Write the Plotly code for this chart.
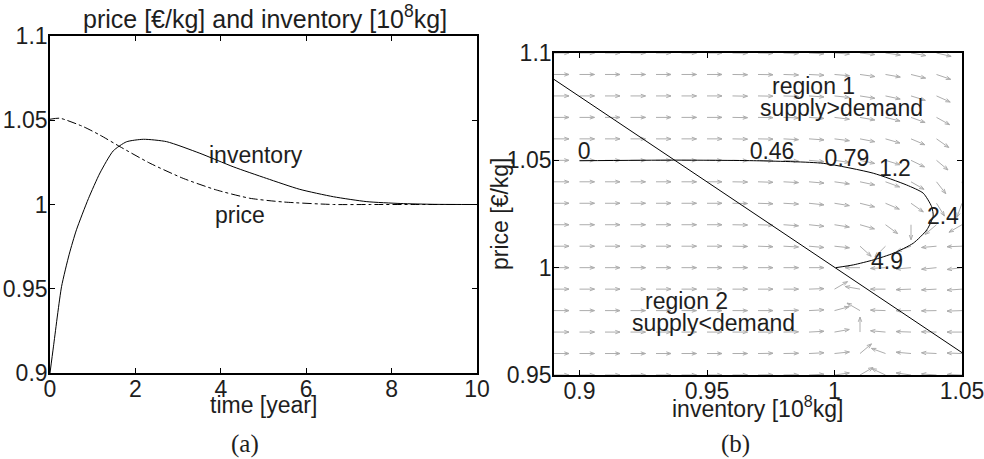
import numpy as np
import plotly.graph_objects as go

# ---------------- data: panel (a) ----------------
t_inv = [0, 0.08, 0.27, 0.45, 0.62, 0.9, 1.17, 1.48, 1.79, 2.19, 2.73, 3.51, 4.29, 5.07, 5.85, 6.64, 7.42, 8.2, 9.0, 10.0]
inventory = [0.9, 0.9155, 0.9512, 0.9705, 0.985, 1.0035, 1.0187, 1.0318, 1.0372, 1.0387, 1.0373, 1.0304,
             1.0224, 1.0155, 1.009, 1.0046, 1.0017, 1.0006, 1.0001, 1.0]
t_price = [0, 0.23, 0.78, 1.17, 1.64, 2.34, 3.12, 3.9, 4.68, 5.46, 6.64, 7.5, 8.5, 10.0]
price = [1.0506, 1.0512, 1.0462, 1.0412, 1.0343, 1.0245, 1.0155, 1.0086, 1.0037, 1.0015, 1.0, 1.0, 1.0, 1.0]

# ---------------- data: panel (b) ----------------
traj_inv = [0.9, 0.9368, 0.9695, 0.9956, 1.0152, 1.0283, 1.0348, 1.0381, 1.0387, 1.0362, 1.0309, 1.0231,
            1.0152, 1.0074, 1.0005]
traj_price = [1.0498, 1.0501, 1.0498, 1.0486, 1.044, 1.0385, 1.0347, 1.0284, 1.024, 1.0176, 1.0114, 1.0067,
              1.0036, 1.0013, 1.0]
balance_inv = [0.89, 1.05]
balance_price = [1.0877, 0.9604]
time_labels = ["0", "0.46", "0.79", "1.2", "2.4", "4.9"]
time_label_inv = [0.9018, 0.9755, 1.0049, 1.0237, 1.0425, 1.0206]
time_label_price = [1.0534, 1.0534, 1.0502, 1.0455, 1.0231, 1.0022]

grid_inv = [0.89, 0.90, 0.91, 0.92, 0.93, 0.94, 0.95, 0.96, 0.97, 0.98, 0.99, 1.00, 1.01, 1.02, 1.03, 1.04, 1.05]
grid_price = [1.10, 1.09, 1.08, 1.07, 1.06, 1.05, 1.04, 1.03, 1.02, 1.01, 1.00, 0.99, 0.98, 0.97, 0.96, 0.95]
nan = float("nan")
# direction of the field arrows (screen degrees, counter-clockwise from "right"), one row per price level
field_angle = [
    [0, 0, 0, 0, 0, 0, 0, -1, -1, -2, -3, -4, -6, -8, -10, -13, -16],
    [0, 0, 0, 0, 0, 0, 0, -1, -1, -2, -3, -5, -8, -10, -14, -19, -22],
    [0, 0, 0, 0, 0, 0, 0, -1, -1, -2, -4, -6, -9, -12, -17, -24, -28],
    [0, 0, 0, 0, 0, 0, 0, -1, -1, -2, -4, -7, -10, -14, -20, -29, -35],
    [0, 0, 0, 0, 0, 0, 0, -1, -1, -3, -4, -7, -11, -16, -23, -35, -42],
    [0, 0, 0, 0, 0, 0, 0, -1, -2, -3, -5, -8, -12, -17, -26, -40, -52],
    [0, 0, 0, 0, 0, 0, 0, -1, -2, -3, -5, -8, -12, -20, -30, -52, -75],
    [0, 0, 0, 0, 0, 0, 0, -1, -2, -3, -6, -9, -14, -23, -35, -58, -110],
    [0, 0, 0, 0, 0, 0, 0, -1, -2, -4, -6, -9, -16, -36, -90, -140, -150],
    [0, 0, 0, 0, 0, 0, 0, -1, -2, -3, -5, -6, -42, -135, -160, -175, -178],
    [0, 0, 0, 0, 0, 0, 0, 0, 0, 0, 0, nan, 180, 183, 185, 186, 187],
    [0, 0, 0, 0, 0, 0, 0, 0, 0, 0, 2, 30, 170, 180, 182, 183, 184],
    [0, 0, 0, 0, 0, 0, 0, 0, 0, 1, 3, 15, 150, 178, 180, 181, 182],
    [0, 0, 0, 0, 0, 0, 0, 0, 0, 1, 3, 10, 90, 175, 178, 179, 180],
    [0, 0, 0, 0, 0, 0, 0, 0, 1, 1, 3, 6, 40, 160, 175, 177, 178],
    [0, 0, 0, 0, 0, 0, 0, 0, 1, 1, 3, 8, 30, 155, 172, 176, 178],
]

# ---------------- layout geometry ----------------
W, H = 984, 459
A_X = (50, 477); A_Y = (36, 373)     # pixel box of panel (a)
B_X = (554, 962); B_Y = (53, 375)    # pixel box of panel (b)
B_XR = (0.89, 1.05); B_YR = (0.95, 1.10)

def dom_x(p):
    return [p[0] / W, p[1] / W]

def dom_y(p):
    return [1 - p[1] / H, 1 - p[0] / H]

FONT = "Liberation Sans, Arial, sans-serif"
fs = 23
INK = "#1e1e1e"

fig = go.Figure()

# panel (a)
fig.add_trace(go.Scatter(x=t_inv, y=inventory, mode="lines",
                         line=dict(color="black", width=1, shape="spline", smoothing=0.6),
                         xaxis="x", yaxis="y", showlegend=False))
fig.add_trace(go.Scatter(x=t_price, y=price, mode="lines",
                         line=dict(color="black", width=1, dash="dashdot", shape="spline", smoothing=0.6),
                         xaxis="x", yaxis="y", showlegend=False))

# panel (b): quiver field, drawn in pixel space through the axis scale
sx = (B_X[1] - B_X[0]) / (B_XR[1] - B_XR[0])
sy = (B_Y[1] - B_Y[0]) / (B_YR[1] - B_YR[0])
L, HL, HA = 15.0, 5.0, np.radians(20)
qx, qy = [], []
for i, gp in enumerate(grid_price):
    for j, gi in enumerate(grid_inv):
        a = field_angle[i][j]
        if a != a:
            continue
        r = np.radians(a)
        hx = gi + L * np.cos(r) / sx
        hy = gp + L * np.sin(r) / sy
        qx += [gi, hx, None]
        qy += [gp, hy, None]
        for s in (1, -1):
            b = r + np.pi + s * HA
            qx += [hx, hx + HL * np.cos(b) / sx, None]
            qy += [hy, hy + HL * np.sin(b) / sy, None]
fig.add_trace(go.Scatter(x=qx, y=qy, mode="lines", line=dict(color="#adadad", width=1),
                         xaxis="x2", yaxis="y2", showlegend=False, hoverinfo="skip"))
fig.add_trace(go.Scatter(x=balance_inv, y=balance_price, mode="lines", line=dict(color="black", width=1),
                         xaxis="x2", yaxis="y2", showlegend=False))
fig.add_trace(go.Scatter(x=traj_inv, y=traj_price, mode="lines",
                         line=dict(color="black", width=1, shape="spline", smoothing=0.6),
                         xaxis="x2", yaxis="y2", showlegend=False))
fig.add_trace(go.Scatter(x=time_label_inv, y=time_label_price, mode="text", text=time_labels,
                         textfont=dict(family=FONT, size=fs, color=INK),
                         xaxis="x2", yaxis="y2", showlegend=False))

axis_common = dict(showline=True, linecolor="black", linewidth=1.6, mirror="ticks", ticks="inside",
                   ticklen=5, tickcolor="black", showgrid=False, zeroline=False, automargin=False,
                   ticklabeloverflow="allow", tickfont=dict(family=FONT, size=fs, color=INK))
xax = dict(axis_common, ticklabelstandoff=-5)
yax = dict(axis_common, ticklabelstandoff=-4)

fig.update_layout(
    width=W, height=H, autosize=False,
    margin=dict(l=0, r=0, t=0, b=0, pad=0, autoexpand=False),
    paper_bgcolor="white", plot_bgcolor="white",
    xaxis=dict(xax, domain=dom_x(A_X), range=[0, 10], tickvals=[0, 2, 4, 6, 8, 10], anchor="y"),
    yaxis=dict(yax, domain=dom_y(A_Y), range=[0.9, 1.1], tickvals=[0.9, 0.95, 1, 1.05, 1.1],
               ticktext=["0.9", "0.95", "1", "1.05", "1.1"], anchor="x"),
    xaxis2=dict(xax, domain=dom_x(B_X), range=list(B_XR), tickvals=[0.9, 0.95, 1, 1.05],
                ticktext=["0.9", "0.95", "1", "1.05"], anchor="y2"),
    yaxis2=dict(yax, domain=dom_y(B_Y), range=list(B_YR), tickvals=[0.95, 1, 1.05, 1.1],
                ticktext=["0.95", "1", "1.05", "1.1"], anchor="x2"),
)

txt = dict(family=FONT, size=fs, color=INK)
ann = [
    dict(text="price [€/kg] and inventory [10<sup>8</sup>kg]", x=265 / W, y=1 - 17 / H, xref="paper", yref="paper",
         font=dict(family=FONT, size=25, color=INK)),
    dict(text="time [year]", x=263 / W, y=1 - 405 / H, xref="paper", yref="paper"),
    dict(text="inventory [10<sup>8</sup>kg]", x=757 / W, y=1 - 407 / H, xref="paper", yref="paper"),
    dict(text="price [€/kg]", x=500 / W, y=1 - 214 / H, xref="paper", yref="paper", textangle=-90),
    dict(text="inventory", x=4.82, y=1.0294, xref="x", yref="y"),
    dict(text="price", x=4.45, y=0.9938, xref="x", yref="y"),
    dict(text="region 1", x=0.9916, y=1.0846, xref="x2", yref="y2"),
    dict(text="supply&gt;demand", x=1.0029, y=1.0744, xref="x2", yref="y2"),
    dict(text="region 2", x=0.9418, y=0.9845, xref="x2", yref="y2"),
    dict(text="supply&lt;demand", x=0.9527, y=0.9742, xref="x2", yref="y2"),
]
for a in ann:
    a.setdefault("font", txt)
    fig.add_annotation(showarrow=False, xanchor="center", yanchor="middle", **a)
for lab, xc in (("(a)", 245), ("(b)", 735)):
    fig.add_annotation(text=lab, x=xc / W, y=1 - 444 / H, xref="paper", yref="paper", showarrow=False,
                       font=dict(family="Liberation Serif, Times New Roman, serif", size=25, color=INK),
                       xanchor="center", yanchor="middle")

fig.write_html("out.html", config={"displayModeBar": False},
               post_script="document.body.style.margin='0';document.body.style.overflow='hidden';")
